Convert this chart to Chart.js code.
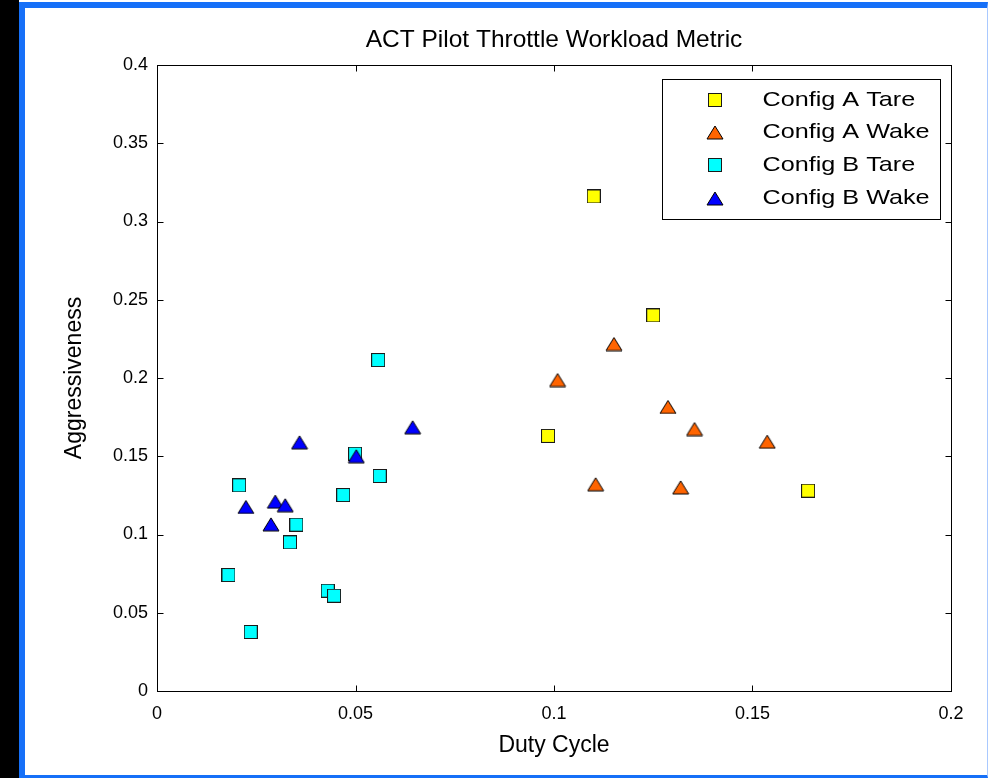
<!DOCTYPE html>
<html>
<head>
<meta charset="utf-8">
<title>ACT Pilot Throttle Workload Metric</title>
<script src="https://cdn.jsdelivr.net/npm/chart.js@4.4.0/dist/chart.umd.min.js"></script>
<style>
  html, body { margin: 0; padding: 0; background: #fff; }
  .fig { position: relative; width: 988px; height: 778px; overflow: hidden; background: #fff; }
  .strip { position: absolute; left: 0; top: 0; width: 19px; height: 778px; background: #000; }
  .edge {
    position: absolute; left: 19px; top: 2px; width: 962px; height: 767px;
    border-style: solid; border-width: 6px 1px 3px 6px;
    border-color: #1670f8 #a9c9ff #1670f8 #1670f8;
  }
  canvas { position: absolute; left: 0; top: 0; }
</style>
</head>
<body>
<div class="fig">
  <div class="strip"></div>
  <div class="edge"></div>
  <canvas id="chart" width="988" height="778"></canvas>
</div>
<script>
// duty cycle (x) vs aggressiveness (y) per configuration
const aTareX = [0.110, 0.125, 0.0985, 0.164];
const aTareY = [0.316, 0.240, 0.163, 0.128];

const aWakeX = [0.1151, 0.1009, 0.1287, 0.1354, 0.1537, 0.1105, 0.1319];
const aWakeY = [0.2217, 0.1987, 0.1815, 0.1674, 0.1593, 0.1321, 0.1301];

const bTareX = [0.0207, 0.0499, 0.0561, 0.0469, 0.0351, 0.0335, 0.0180, 0.0430, 0.0446, 0.0236, 0.0557];
const bTareY = [0.1314, 0.1516, 0.1374, 0.1252, 0.1063, 0.0950, 0.0741, 0.0641, 0.0609, 0.0377, 0.2115];

const bWakeX = [0.0359, 0.0502, 0.0644, 0.0224, 0.0298, 0.0323, 0.0287];
const bWakeY = [0.1589, 0.1500, 0.1685, 0.1176, 0.1210, 0.1187, 0.1065];

const seriesNames = ['Config A Tare', 'Config A Wake', 'Config B Tare', 'Config B Wake'];

const xTicks = [0, 0.05, 0.1, 0.15, 0.2];
const xTickLabels = ['0', '0.05', '0.1', '0.15', '0.2'];
const yTicks = [0, 0.05, 0.1, 0.15, 0.2, 0.25, 0.3, 0.35, 0.4];
const yTickLabels = ['0', '0.05', '0.1', '0.15', '0.2', '0.25', '0.3', '0.35', '0.4'];

const FONT = '"Liberation Sans", Arial, sans-serif';

// MATLAB-looking markers: square and upward triangle centred on their box
function squareMarker(fill) {
  const c = document.createElement('canvas');
  c.width = 14; c.height = 14;
  const g = c.getContext('2d');
  g.fillStyle = fill;
  g.fillRect(0.5, 0.5, 13, 13);
  g.strokeStyle = '#1a1a1a';
  g.lineWidth = 1;
  g.strokeRect(0.5, 0.5, 13, 13);
  return c;
}

function triangleMarker(fill) {
  const c = document.createElement('canvas');
  c.width = 18; c.height = 15;
  const g = c.getContext('2d');
  g.beginPath();
  g.moveTo(9, 1);
  g.lineTo(17, 14);
  g.lineTo(1, 14);
  g.closePath();
  g.fillStyle = fill;
  g.fill();
  g.strokeStyle = '#000';
  g.lineWidth = 1;
  g.stroke();
  return c;
}

const markers = [
  squareMarker('#ffff00'),
  triangleMarker('#ff6400'),
  squareMarker('#00ffff'),
  triangleMarker('#0000ff')
];

function pts(xs, ys) {
  return xs.map((x, i) => ({ x: x, y: ys[i] }));
}

const seriesData = [pts(aTareX, aTareY), pts(aWakeX, aWakeY), pts(bTareX, bTareY), pts(bWakeX, bWakeY)];

// box, inward ticks on all four sides
const axesBox = {
  id: 'axesBox',
  afterDraw(chart) {
    const ctx = chart.ctx;
    const a = chart.chartArea;
    const xs = chart.scales.x, ys = chart.scales.y;
    const L = Math.round(a.left) + 0.5, R = Math.round(a.right) + 0.5;
    const T = Math.round(a.top) + 0.5, B = Math.round(a.bottom) + 0.5;
    ctx.save();
    ctx.strokeStyle = '#000';
    ctx.lineWidth = 1;
    ctx.beginPath();
    xTicks.forEach(v => {
      const p = Math.round(xs.getPixelForValue(v)) + 0.5;
      ctx.moveTo(p, B); ctx.lineTo(p, B - 6);
      ctx.moveTo(p, T); ctx.lineTo(p, T + 6);
    });
    yTicks.forEach(v => {
      const p = Math.round(ys.getPixelForValue(v)) + 0.5;
      ctx.moveTo(L, p); ctx.lineTo(L + 6, p);
      ctx.moveTo(R, p); ctx.lineTo(R - 6, p);
    });
    ctx.stroke();
    ctx.strokeRect(L, T, R - L, B - T);
    ctx.restore();
  }
};

// legend box in the upper right corner of the axes
const boxLegend = {
  id: 'boxLegend',
  afterDraw(chart) {
    const ctx = chart.ctx;
    const a = chart.chartArea;
    const bx = Math.round(a.right) - 289 + 0.5;
    const by = Math.round(a.top) + 14 + 0.5;
    const bw = 278, bh = 140;
    ctx.save();
    ctx.fillStyle = '#fff';
    ctx.fillRect(bx, by, bw, bh);
    ctx.strokeStyle = '#000';
    ctx.lineWidth = 1;
    ctx.strokeRect(bx, by, bw, bh);
    ctx.font = '21px ' + FONT;
    ctx.fillStyle = '#000';
    ctx.textBaseline = 'middle';
    ctx.textAlign = 'left';
    seriesNames.forEach((name, i) => {
      const y = Math.round(by + 20 + i * 32.7);
      const m = markers[i];
      ctx.drawImage(m, Math.round(bx + 52 - m.width / 2), Math.round(y - m.height / 2));
      ctx.save();
      ctx.translate(bx + 100, y);
      ctx.scale(1.2, 1);
      ctx.fillText(name, 0, 0);
      ctx.restore();
    });
    ctx.restore();
  }
};

new Chart(document.getElementById('chart'), {
  type: 'scatter',
  data: {
    datasets: seriesData.map((d, i) => ({
      label: seriesNames[i],
      data: d,
      pointStyle: markers[i],
      pointRadius: 8,
      pointHoverRadius: 8,
      order: 4 - i
    }))
  },
  options: {
    responsive: false,
    animation: false,
    events: [],
    layout: { padding: { top: 0, right: 37, left: 0, bottom: 0 } },
    plugins: {
      legend: { display: false },
      tooltip: { enabled: false },
      title: {
        display: true,
        fullSize: false,
        text: 'ACT Pilot Throttle Workload Metric',
        color: '#000',
        font: { family: FONT, size: 24.5, weight: 'normal', lineHeight: 1.2 },
        padding: { top: 25.5, bottom: 10.1 }
      }
    },
    scales: {
      x: {
        type: 'linear',
        min: 0,
        max: 0.2,
        afterBuildTicks(s) { s.ticks = xTicks.map(v => ({ value: v })); },
        afterFit(s) { s.height = 87; },
        grid: { display: false, drawTicks: false },
        border: { display: false },
        ticks: {
          color: '#000',
          padding: 12,
          maxRotation: 0,
          font: { family: FONT, size: 18 },
          callback: (v, i) => xTickLabels[i]
        },
        title: {
          display: true,
          text: 'Duty Cycle',
          color: '#000',
          font: { family: FONT, size: 23, lineHeight: 1.2 },
          padding: { top: 0, bottom: 19 }
        }
      },
      y: {
        type: 'linear',
        min: 0,
        max: 0.4,
        afterBuildTicks(s) { s.ticks = yTicks.map(v => ({ value: v })); },
        afterFit(s) { s.width = 157; },
        grid: { display: false, drawTicks: false },
        border: { display: false },
        ticks: {
          color: '#000',
          padding: 9,
          font: { family: FONT, size: 18 },
          callback: (v, i) => yTickLabels[i]
        },
        title: {
          display: true,
          text: 'Aggressiveness',
          color: '#000',
          font: { family: FONT, size: 23, lineHeight: 1.2 },
          padding: { top: 61, bottom: 0 }
        }
      }
    }
  },
  plugins: [axesBox, boxLegend]
});
</script>
</body>
</html>
